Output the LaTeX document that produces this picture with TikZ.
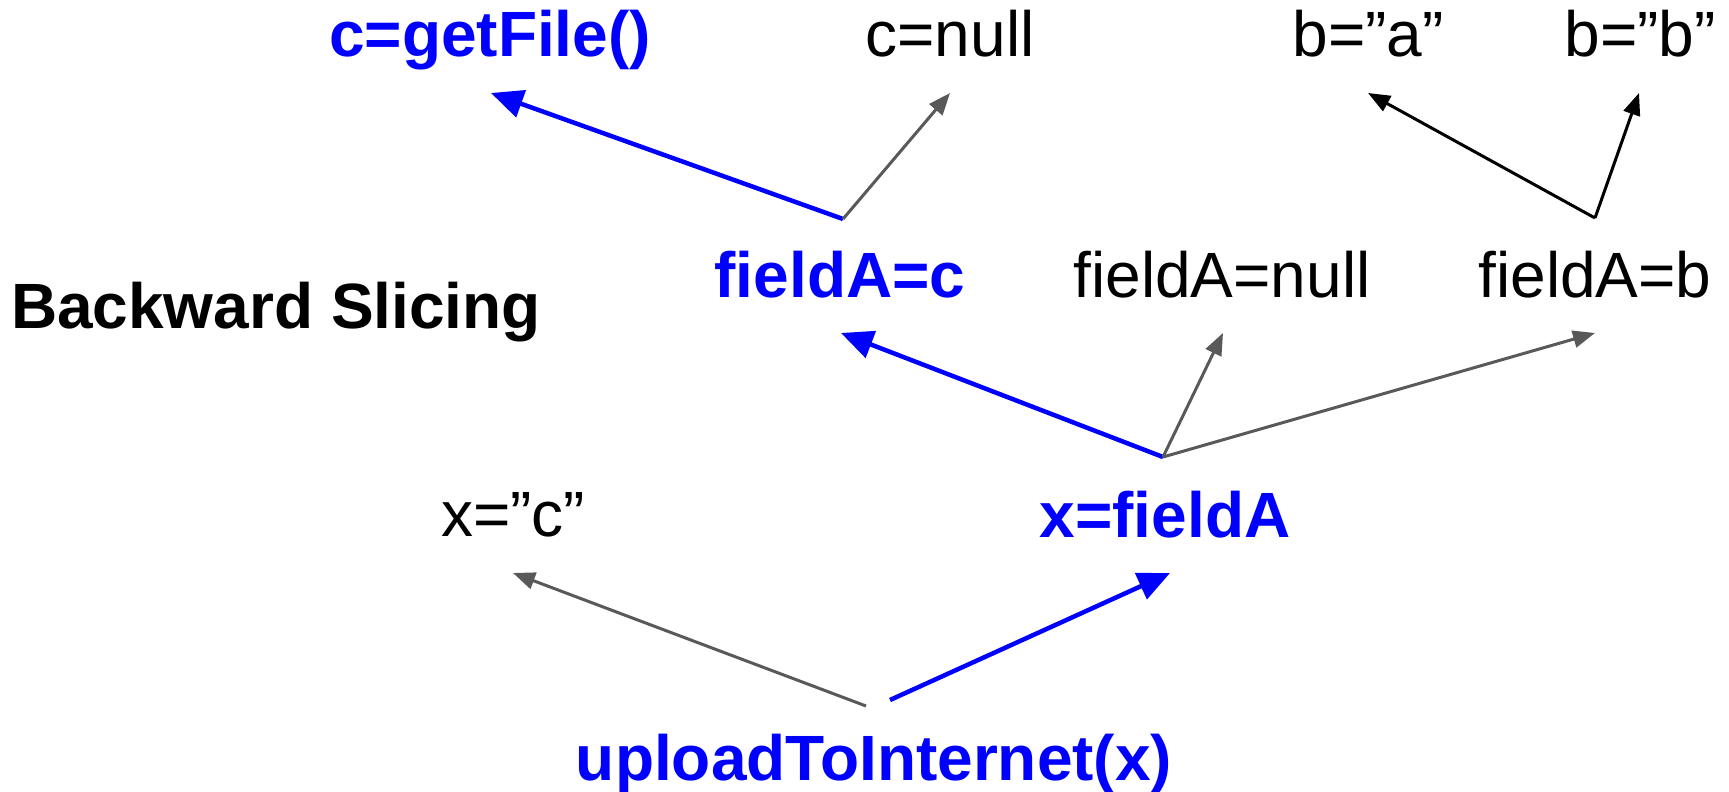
\documentclass[tikz,border=0pt]{standalone}
\usepackage{fontspec}
\setmainfont{Liberation Sans}
\usetikzlibrary{arrows.meta}
\definecolor{pblue}{RGB}{0,0,255}
\definecolor{dgray}{RGB}{89,89,89}
\begin{document}
\begin{tikzpicture}[x=1pt,y=-1pt,
  lbl/.style={anchor=base,inner sep=0pt,font=\fontsize{64}{76}\selectfont},
  hl/.style={lbl,text=pblue,font=\fontsize{64}{76}\selectfont\bfseries},
  bluearr/.style={draw=pblue,line width=4.5pt,-{Triangle[length=32pt,width=28pt]}},
  grayarr/.style={draw=dgray,line width=3pt,-{Triangle[length=22pt,width=17pt]}},
  blackarr/.style={draw=black,line width=3pt,-{Triangle[length=22pt,width=17pt]}}]
\useasboundingbox (0,0) rectangle (1729,792);
% labels
\node[hl]  (getfile) at (490,57) {c=getFile()};
\node[lbl] (cnull)   at (950,57) {c=null};
\node[lbl] (ba)      at (1368,57) {b=”a”};
\node[lbl] (bb)      at (1640,57) {b=”b”};
\node[lbl,font=\fontsize{64}{76}\selectfont\bfseries] (title) at (276,328) {Backward Slicing};
\node[hl]  (fac)     at (840,297) {fieldA=c};
\node[lbl] (fanull)  at (1222,297) {fieldA=null};
\node[lbl] (fab)     at (1595,297) {fieldA=b};
\node[lbl] (xc)      at (513,536) {x=”c”};
\node[hl]  (xfa)     at (1165,537) {x=fieldA};
\node[hl]  (upload)  at (874,780) {uploadToInternet(x)};
% connector end points
\coordinate (facS)  at (843,219);
\coordinate (fabS)  at (1595,218);
\coordinate (xfaS)  at (1163,457);
\coordinate (upL)   at (866,706);
\coordinate (upR)   at (890,700);
\coordinate (getfileT) at (491,93);
\coordinate (cnullT)   at (950,93);
\coordinate (baT)      at (1368,93);
\coordinate (bbT)      at (1639,93);
\coordinate (facT)     at (841,333);
\coordinate (fanullT)  at (1223,333);
\coordinate (fabT)     at (1595,333);
\coordinate (xcT)      at (513,573);
\coordinate (xfaT)     at (1170,573);
% connectors
\draw[bluearr]  (facS) -- (getfileT);
\draw[grayarr]  (facS) -- (cnullT);
\draw[blackarr] (fabS) -- (baT);
\draw[blackarr] (fabS) -- (bbT);
\draw[bluearr]  (xfaS) -- (facT);
\draw[grayarr]  (xfaS) -- (fanullT);
\draw[grayarr]  (xfaS) -- (fabT);
\draw[grayarr]  (upL) -- (xcT);
\draw[bluearr]  (upR) -- (xfaT);
\end{tikzpicture}
\end{document}
